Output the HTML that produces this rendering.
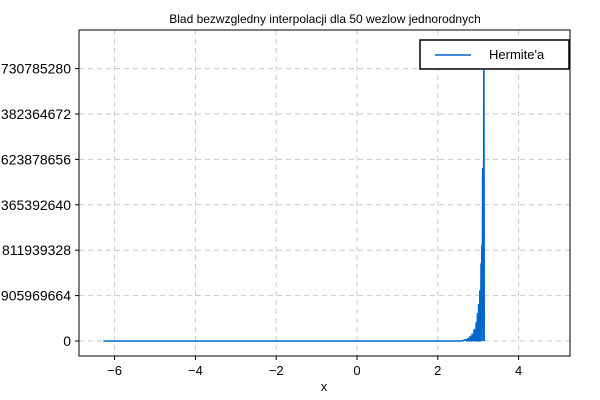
<!DOCTYPE html>
<html><head><meta charset="utf-8"><style>
body{margin:0;background:#fff;}
svg{display:block;font-family:"Liberation Sans",sans-serif;}
</style></head><body>
<svg id="chart" width="600" height="400">
<defs>
<clipPath id="clip">
<rect x="79" y="30" width="341" height="326"/>
<rect x="420" y="70" width="150" height="286"/>
</clipPath>
</defs>
<text x="325" y="23" font-size="12" text-anchor="middle">Blad bezwzgledny interpolacji dla 50 wezlow jednorodnych</text>
<g id="grid"></g>
<g id="plot"></g>
<rect x="79" y="30" width="491" height="326" fill="none" stroke="#000" stroke-width="1"/>
<g id="ticks"></g>
<text x="324" y="391" font-size="13" text-anchor="middle">x</text>
<g id="legend">
<rect x="420" y="40" width="149" height="29" fill="#ffffff" stroke="#000" stroke-width="1.5"/>
<line x1="435" y1="55" x2="471" y2="55" stroke="#0066cc" stroke-width="1.5"/>
<text x="489" y="59" font-size="13">Hermite'a</text>
</g>
</svg>
<script>
const xTicks=[-6,-4,-2,0,2,4];
const xTickLabels=["\u22126","\u22124","\u22122","0","2","4"];
const yTicks=[0,1,2,3,4,5,6];
const yTickLabels=["0","905969664","811939328","365392640","623878656","382364672","730785280"];
const xs=[-6.28,2.6,2.7,2.72,2.75,2.78,2.8,2.83,2.85,2.88,2.9,2.93,2.95,2.97,2.98,3.0,3.01,3.03,3.04,3.06,3.07,3.08,3.09,3.1,3.11,3.13,3.14,3.15];
const ys=[0,0,0.03,0,0.06,0,0.1,0,0.15,0,0.25,0,0.4,0,0.6,0,0.8,0,1.1,0,1.7,0.2,2.1,0.3,3.8,0.5,7.5,0];
const X=v=>357+40.4*v, Y=v=>341-45.4*v;
const ns="http://www.w3.org/2000/svg";
const grid=document.getElementById('grid'),ticks=document.getElementById('ticks'),plot=document.getElementById('plot');
function mk(p,t,a){const e=document.createElementNS(ns,t);for(const k in a)e.setAttribute(k,a[k]);p.appendChild(e);return e;}
xTicks.forEach((v,i)=>{
 const g=mk(grid,'line',{x1:X(v),x2:X(v),y1:30,y2:356,stroke:'#c8c8c8','stroke-dasharray':'5,4'});
 
 
 const t=mk(ticks,'line',{x1:X(v),x2:X(v),y1:356,y2:360,stroke:'#000'});
 
 
 const l=mk(ticks,'text',{x:X(v),y:375,'font-size':13,'text-anchor':'middle'});l.textContent=xTickLabels[i];
 
 
});
yTicks.forEach((v,i)=>{
 const g=mk(grid,'line',{x1:79,x2:570,y1:Y(v),y2:Y(v),stroke:'#c8c8c8','stroke-dasharray':'5,4'});
 
 
 const t=mk(ticks,'line',{x1:75,x2:79,y1:Y(v),y2:Y(v),stroke:'#000'});
 
 
 const l=mk(ticks,'text',{x:71,y:Y(v)+5,'font-size':14,'text-anchor':'end'});l.textContent=yTickLabels[i];
 
 
});
const pl=mk(plot,'polyline',{points:xs.map((x,i)=>X(x)+','+Y(ys[i])).join(' '),fill:'#0066cc','fill-opacity':0.9,stroke:'#0066cc','stroke-width':1.5,'clip-path':'url(#clip)','stroke-linejoin':'round'});


</script>
</body></html>
